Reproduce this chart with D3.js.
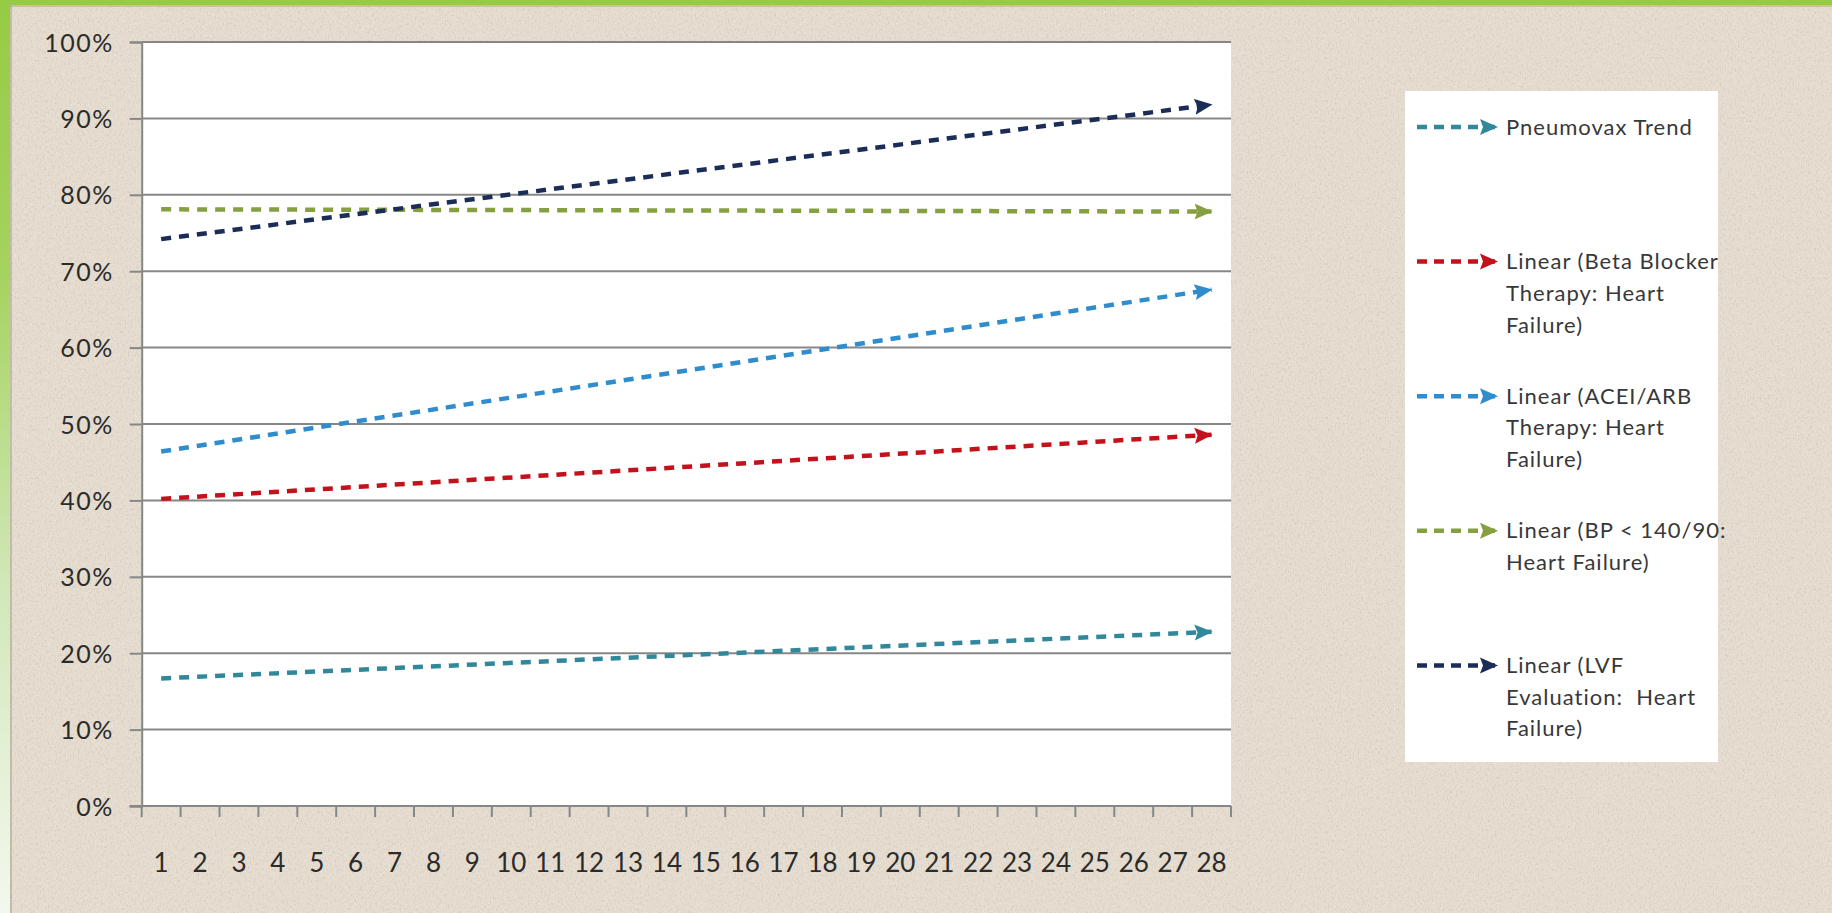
<!DOCTYPE html>
<html>
<head>
<meta charset="utf-8">
<script src="https://cdn.jsdelivr.net/npm/d3@7"></script>
<style>
  html, body { margin: 0; padding: 0; background: #ffffff; overflow: hidden; }
  svg { display: block; }
</style>
</head>
<body>
<svg id="chart" width="1832" height="913"></svg>
<script>
// Measurement periods along the x axis
const categories = [1, 2, 3, 4, 5, 6, 7, 8, 9, 10, 11, 12, 13, 14, 15, 16, 17, 18, 19, 20, 21, 22, 23, 24, 25, 26, 27, 28];

// Y axis ticks and their labels
const yTicks = [0, 0.1, 0.2, 0.3, 0.4, 0.5, 0.6, 0.7, 0.8, 0.9, 1.0];
const yTickLabels = ["0%", "10%", "20%", "30%", "40%", "50%", "60%", "70%", "80%", "90%", "100%"];

// Series names (legend text, already broken into lines)
const seriesLegend = [
  ["Pneumovax Trend"],
  ["Linear (Beta Blocker", "Therapy: Heart", "Failure)"],
  ["Linear (ACEI/ARB", "Therapy: Heart", "Failure)"],
  ["Linear (BP < 140/90:", "Heart Failure)"],
  ["Linear (LVF", "Evaluation:  Heart", "Failure)"]
];

// Linear trend lines: value at the first period and at the last period
const trendFirstPeriod = [1, 1, 1, 1, 1];
const trendLastPeriod = [28, 28, 28, 28, 28];
const trendStartValues = [0.167, 0.402, 0.464, 0.781, 0.742];
const trendEndValues = [0.228, 0.486, 0.676, 0.778, 0.918];

// Line colours, one per series
const seriesColors = ["#31889a", "#c4121c", "#2f8ccd", "#86a041", "#1b2d57"];

const svg = d3.select("#chart");
const W = 1832, H = 913;

// ---------- page background ----------
const defs = svg.append("defs");

const edgeGrad = defs.append("linearGradient")
  .attr("id", "edgeGrad").attr("x1", 0).attr("y1", 0).attr("x2", 0).attr("y2", 1);
edgeGrad.append("stop").attr("offset", "0%").attr("stop-color", "#96cb45");
edgeGrad.append("stop").attr("offset", "30%").attr("stop-color", "#a5d35f");
edgeGrad.append("stop").attr("offset", "65%").attr("stop-color", "#d2e8bb");
edgeGrad.append("stop").attr("offset", "100%").attr("stop-color", "#f3f8ee");

// fine speckled paper grain
const grain = defs.append("filter").attr("id", "grain")
  .attr("x", 0).attr("y", 0).attr("width", "100%").attr("height", "100%");
grain.append("feTurbulence").attr("type", "fractalNoise")
  .attr("baseFrequency", "0.6 0.35").attr("numOctaves", 2).attr("seed", 7).attr("result", "fine");
grain.append("feColorMatrix").attr("in", "fine").attr("type", "matrix")
  .attr("values", "0 0 0 0 0.55  0 0 0 0 0.50  0 0 0 0 0.43  3.0 0 0 0 -1.5")
  .attr("result", "specks");
grain.append("feTurbulence").attr("type", "fractalNoise")
  .attr("baseFrequency", "0.9").attr("numOctaves", 1).attr("seed", 11).attr("result", "light");
grain.append("feColorMatrix").attr("in", "light").attr("type", "matrix")
  .attr("values", "0 0 0 0 0.97  0 0 0 0 0.95  0 0 0 0 0.91  2.5 0 0 0 -1.3")
  .attr("result", "flecks");
grain.append("feMerge").call(m => {
  m.append("feMergeNode").attr("in", "flecks");
  m.append("feMergeNode").attr("in", "specks");
});

// green frame: top band and left band
svg.append("rect").attr("x", 0).attr("y", 0).attr("width", W).attr("height", H).attr("fill", "#96cb45");
svg.append("rect").attr("x", 0).attr("y", 0).attr("width", 11).attr("height", H).attr("fill", "url(#edgeGrad)");

// parchment panel
svg.append("rect").attr("x", 10).attr("y", 5).attr("width", W - 10).attr("height", H - 5).attr("fill", "#e5dccf");
svg.append("rect").attr("x", 10).attr("y", 5).attr("width", W - 10).attr("height", H - 5)
  .attr("fill", "none").attr("filter", "url(#grain)").attr("opacity", 0.45);
svg.append("line").attr("x1", 11).attr("x2", 11).attr("y1", 5).attr("y2", H)
  .attr("stroke", "#b9ad9b").attr("stroke-width", 2).attr("opacity", 0.7);
svg.append("line").attr("x1", 10).attr("x2", W).attr("y1", 6).attr("y2", 6)
  .attr("stroke", "#b9ad9b").attr("stroke-width", 2).attr("opacity", 0.6);

// ---------- scales ----------
const plot = { left: 141.7, right: 1231, top: 42, bottom: 806 };

const x = d3.scaleBand().domain(categories).range([plot.left, plot.right]).padding(0);
const xc = d => x(d) + x.bandwidth() / 2;
const y = d3.scaleLinear().domain([0, 1]).range([plot.bottom, plot.top]);

// plot area
svg.append("rect")
  .attr("x", plot.left).attr("y", plot.top)
  .attr("width", plot.right - plot.left).attr("height", plot.bottom - plot.top)
  .attr("fill", "#ffffff");

// horizontal gridlines
svg.append("g").selectAll("line").data(yTicks.filter(d => d > 0)).join("line")
  .attr("x1", plot.left).attr("x2", plot.right)
  .attr("y1", d => y(d)).attr("y2", d => y(d))
  .attr("stroke", "#878787").attr("stroke-width", 2);

// y axis
const yAxis = svg.append("g")
  .attr("transform", `translate(${plot.left},0)`)
  .call(d3.axisLeft(y).tickValues(yTicks).tickSize(12).tickPadding(16)
    .tickFormat((d, i) => yTickLabels[i]));
yAxis.select(".domain").attr("stroke", "#878787").attr("stroke-width", 2);
yAxis.selectAll(".tick line").attr("stroke", "#878787").attr("stroke-width", 2);
yAxis.selectAll(".tick text")
  .attr("fill", "#2b2b2b")
  .style("font-family", "Lato, 'Open Sans', sans-serif")
  .style("font-size", "25px")
  .style("letter-spacing", "1.5px")
  .attr("dy", "0.36em");

// x axis: boundary tick marks between periods
const boundaries = categories.map(d => x(d)).concat([x(categories[categories.length - 1]) + x.bandwidth()]);
svg.append("g").selectAll("line").data(boundaries).join("line")
  .attr("x1", d => d).attr("x2", d => d)
  .attr("y1", plot.bottom).attr("y2", plot.bottom + 11)
  .attr("stroke", "#878787").attr("stroke-width", 2);
svg.append("line")
  .attr("x1", plot.left - 12).attr("x2", plot.right)
  .attr("y1", plot.bottom).attr("y2", plot.bottom)
  .attr("stroke", "#878787").attr("stroke-width", 2);

const xAxis = svg.append("g")
  .attr("transform", `translate(0,${plot.bottom})`)
  .call(d3.axisBottom(x).tickSize(0).tickPadding(0));
xAxis.select(".domain").remove();
xAxis.selectAll(".tick text")
  .attr("fill", "#2b2b2b")
  .attr("y", 66).attr("dy", 0)
  .style("font-family", "Lato, 'Open Sans', sans-serif")
  .style("font-size", "26px");

// ---------- arrow markers ----------
seriesColors.forEach((c, i) => {
  defs.append("marker")
    .attr("id", "arrow" + i)
    .attr("markerUnits", "userSpaceOnUse")
    .attr("viewBox", "0 -9 18 18")
    .attr("refX", 17).attr("refY", 0)
    .attr("markerWidth", 18).attr("markerHeight", 18)
    .attr("orient", "auto")
    .append("path")
    .attr("d", "M0,-8 L18,0 L0,8 L3,0 Z")
    .attr("fill", c);
});

// ---------- trend lines ----------
const trends = seriesLegend.map((lines, i) => ({
  color: seriesColors[i],
  idx: i,
  points: [
    { cat: trendFirstPeriod[i], v: trendStartValues[i] },
    { cat: trendLastPeriod[i], v: trendEndValues[i] }
  ]
}));

const lineGen = d3.line().x(p => xc(p.cat)).y(p => y(p.v));

svg.append("g").selectAll("path").data(trends).join("path")
  .attr("d", d => lineGen(d.points))
  .attr("fill", "none")
  .attr("stroke", d => d.color)
  .attr("stroke-width", 4.5)
  .attr("stroke-dasharray", "10 8")
  .attr("marker-end", d => `url(#arrow${d.idx})`);

// ---------- legend ----------
const legendBox = { x: 1405, y: 91, w: 313, h: 671 };
svg.append("rect")
  .attr("x", legendBox.x).attr("y", legendBox.y)
  .attr("width", legendBox.w).attr("height", legendBox.h)
  .attr("fill", "#ffffff");

const legendY = d3.scaleLinear().domain([0, seriesLegend.length - 1]).range([127, 665.4]);

const items = svg.append("g").selectAll("g").data(trends).join("g")
  .attr("transform", d => `translate(0,${legendY(d.idx)})`);

items.append("line")
  .attr("x1", 1417).attr("x2", 1497)
  .attr("y1", 0).attr("y2", 0)
  .attr("stroke", d => d.color)
  .attr("stroke-width", 4.5)
  .attr("stroke-dasharray", "10 7")
  .attr("marker-end", d => `url(#arrow${d.idx})`);

items.append("text")
  .attr("x", 1506).attr("y", 7.5)
  .attr("fill", "#383838")
  .style("font-family", "Lato, 'Open Sans', sans-serif")
  .style("font-size", "22px")
  .style("letter-spacing", "1px")
  .selectAll("tspan").data(d => seriesLegend[d.idx]).join("tspan")
  .attr("x", 1506)
  .attr("dy", (t, j) => j === 0 ? 0 : 31.8)
  .style("white-space", "pre")
  .text(t => t);
</script>
</body>
</html>
